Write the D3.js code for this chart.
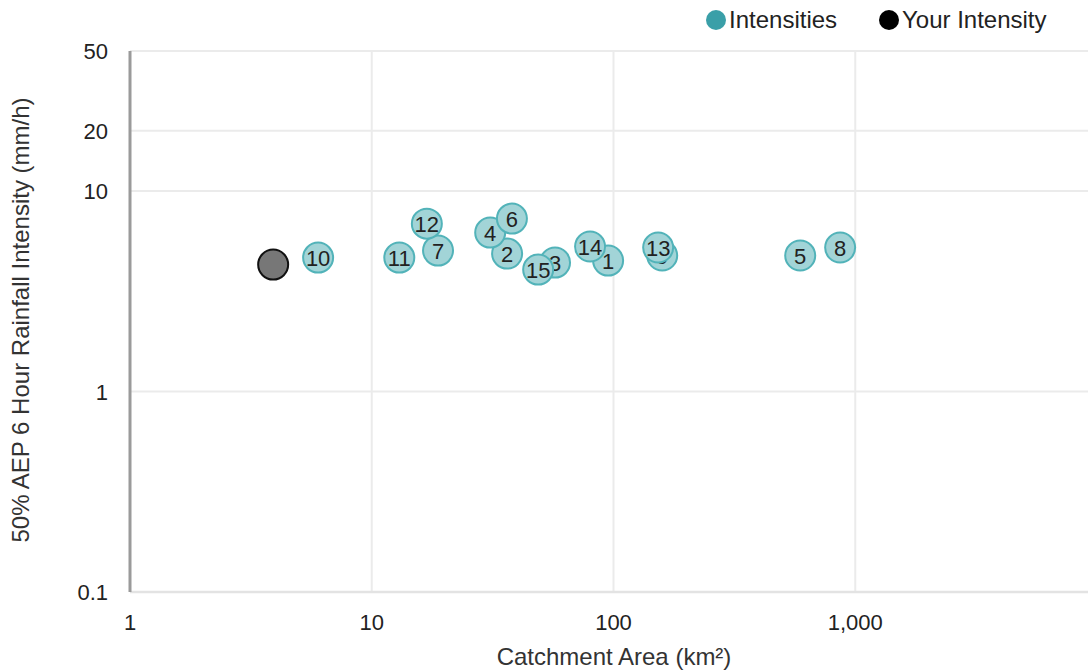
<!DOCTYPE html>
<html>
<head>
<meta charset="utf-8">
<script src="https://cdn.jsdelivr.net/npm/d3@7"></script>
<style>
  body { margin: 0; background: #fff; }
  text { font-family: "Liberation Sans", Arial, sans-serif; }
</style>
</head>
<body>
<div id="chart"></div>
<script>
// catchment data
const labels = ["1", "2", "3", "4", "5", "6", "7", "8", "9", "10", "11", "12", "13", "14", "15"];
const areas = [95, 36.3, 57.3, 30.9, 592, 38, 18.8, 866, 159, 6.0, 13.0, 16.9, 153, 80, 48.8];
const intensities = [4.5, 4.88, 4.4, 6.21, 4.77, 7.29, 5.05, 5.23, 4.77, 4.66, 4.66, 6.88, 5.23, 5.29, 4.06];
const yourArea = [3.91];
const yourIntensity = [4.3];
const xTicks = [1, 10, 100, 1000];
const yTicks = [0.1, 1, 10, 20, 50];

const width = 1088;
const height = 672;

const svg = d3.select("#chart").append("svg")
    .attr("width", width)
    .attr("height", height);

const x = d3.scaleLog().domain([1, 10000]).range([130, 1097]);
const y = d3.scaleLog().domain([0.1, 50]).range([592, 51]);

// grid lines
svg.append("g")
    .selectAll("line")
    .data(xTicks.slice(1))
    .enter().append("line")
    .attr("x1", d => x(d)).attr("x2", d => x(d))
    .attr("y1", y(50)).attr("y2", y(0.1))
    .attr("stroke", "#ebebeb")
    .attr("stroke-width", 2);

svg.append("g")
    .selectAll("line")
    .data(yTicks.slice(1))
    .enter().append("line")
    .attr("x1", x(1)).attr("x2", width)
    .attr("y1", d => y(d)).attr("y2", d => y(d))
    .attr("stroke", "#ebebeb")
    .attr("stroke-width", 2);

// x axis baseline
svg.append("line")
    .attr("x1", x(1)).attr("x2", width)
    .attr("y1", y(0.1)).attr("y2", y(0.1))
    .attr("stroke", "#e3e3e3")
    .attr("stroke-width", 2.5);

// y axis line
svg.append("line")
    .attr("x1", x(1)).attr("x2", x(1))
    .attr("y1", y(50)).attr("y2", y(0.1))
    .attr("stroke", "#9a9a9a")
    .attr("stroke-width", 3);

// tick labels
const fmt = d3.format(",");
svg.append("g")
    .selectAll("text")
    .data(xTicks)
    .enter().append("text")
    .attr("x", d => x(d))
    .attr("y", 630)
    .attr("text-anchor", "middle")
    .attr("font-size", 22)
    .attr("fill", "#222")
    .text(d => fmt(d));

svg.append("g")
    .selectAll("text")
    .data(yTicks)
    .enter().append("text")
    .attr("x", 108)
    .attr("y", d => y(d) + 8)
    .attr("text-anchor", "end")
    .attr("font-size", 22)
    .attr("fill", "#222")
    .text(d => d);

// axis titles
svg.append("text")
    .attr("x", 614)
    .attr("y", 665)
    .attr("text-anchor", "middle")
    .attr("font-size", 24)
    .attr("fill", "#333")
    .text("Catchment Area (km²)");

svg.append("text")
    .attr("transform", "translate(29,320) rotate(-90)")
    .attr("text-anchor", "middle")
    .attr("font-size", 24)
    .attr("fill", "#333")
    .text("50% AEP 6 Hour Rainfall Intensity (mm/h)");

// your intensity point
svg.append("g")
    .selectAll("circle")
    .data(yourArea)
    .enter().append("circle")
    .attr("cx", d => x(d))
    .attr("cy", (d, i) => y(yourIntensity[i]))
    .attr("r", 15)
    .attr("fill", "#777")
    .attr("stroke", "#111")
    .attr("stroke-width", 2);

// catchment points
const pts = svg.append("g")
    .selectAll("g")
    .data(labels)
    .enter().append("g")
    .attr("transform", (d, i) => `translate(${x(areas[i])},${y(intensities[i])})`);

pts.append("circle")
    .attr("r", 15)
    .attr("fill", "#a2d4d7")
    .attr("stroke", "#52b3b9")
    .attr("stroke-width", 2);

pts.append("text")
    .attr("text-anchor", "middle")
    .attr("y", 8)
    .attr("font-size", 22)
    .attr("fill", "#222")
    .text(d => d);

// legend
const legend = [
    { name: "Intensities", color: "#3a9fa8", cx: 716 },
    { name: "Your Intensity", color: "#000", cx: 889 }
];
const lg = svg.append("g")
    .selectAll("g")
    .data(legend)
    .enter().append("g");
lg.append("circle")
    .attr("cx", d => d.cx)
    .attr("cy", 20)
    .attr("r", 10)
    .attr("fill", d => d.color);
lg.append("text")
    .attr("x", d => d.cx + 13)
    .attr("y", 28)
    .attr("font-size", 24)
    .attr("fill", "#222")
    .text(d => d.name);
</script>
</body>
</html>
